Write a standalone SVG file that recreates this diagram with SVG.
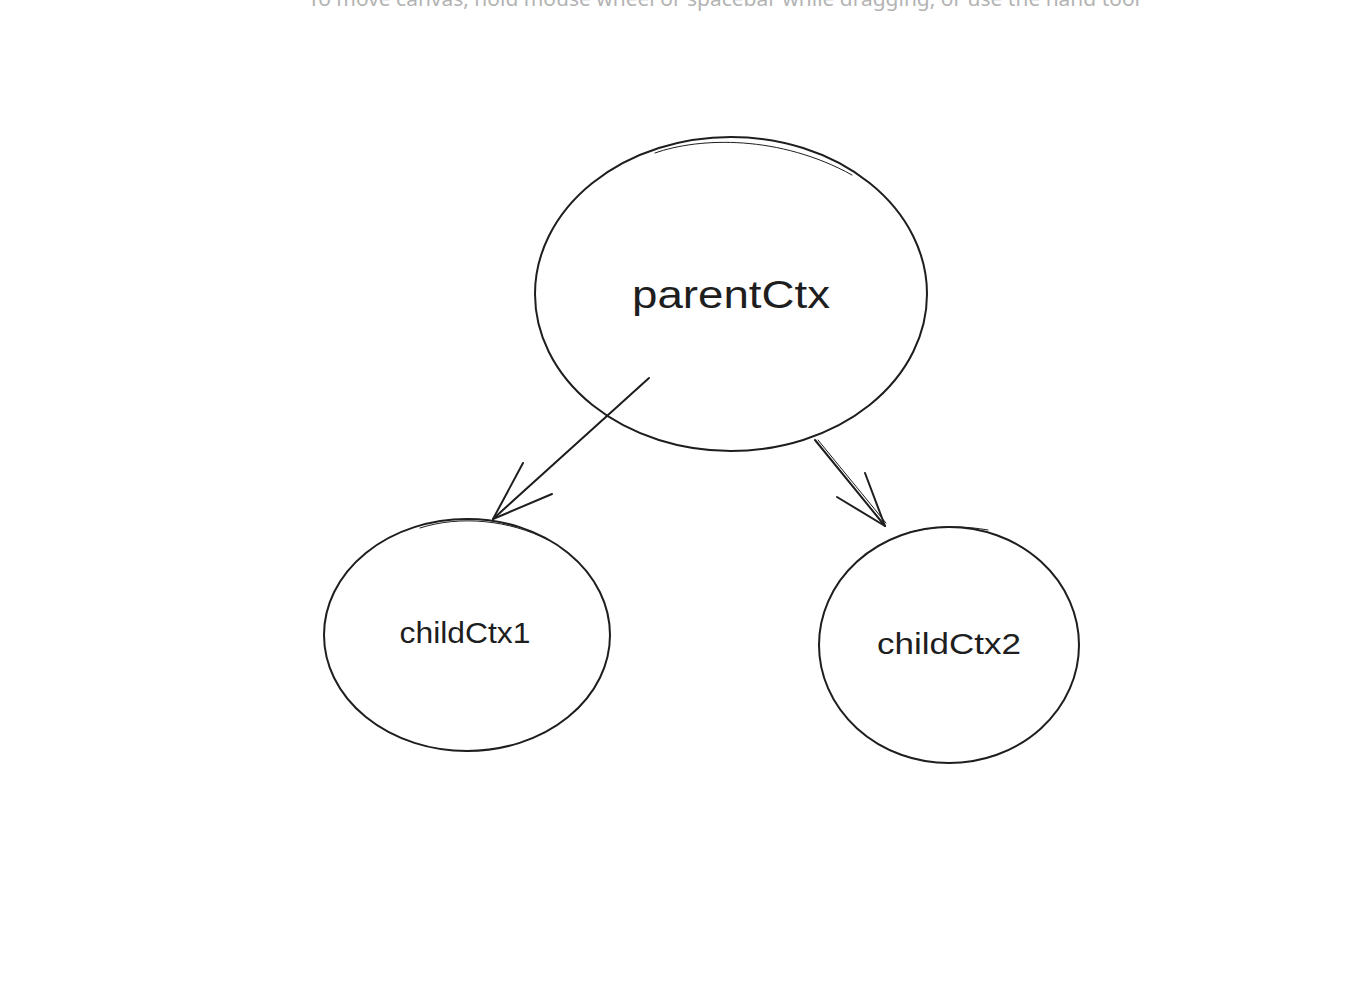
<svg xmlns="http://www.w3.org/2000/svg" width="1370" height="984" viewBox="0 0 1370 984">
<style>
.shape{fill:none;stroke:#1e1e1e;stroke-width:2;stroke-linecap:round;stroke-linejoin:round}
.thin{fill:none;stroke:#1e1e1e;stroke-width:1;stroke-linecap:round}
.lbl{font-family:"Liberation Sans","DejaVu Sans",sans-serif;fill:#1e1e1e;text-anchor:middle}
.hint{font-family:"Noto Sans","Open Sans",sans-serif;fill:#b3b3b3;font-size:20px;text-anchor:middle}
</style>
<rect width="1370" height="984" fill="#ffffff"/>
<text class="hint" x="724" y="6" textLength="832" lengthAdjust="spacingAndGlyphs">To move canvas, hold mouse wheel or spacebar while dragging, or use the hand tool</text>
<g id="connectors">
<g id="arrow1">
<path class="shape" d="M649 378 L493 519"/>
<path class="thin" d="M646 381 L496 516"/>
<path class="shape" d="M523 463 L493 519 L552 494"/>
</g>
<g id="arrow2">
<path class="shape" d="M815 440 L885 526"/>
<path class="thin" d="M818 440 L886 523"/>
<path class="shape" d="M865 473 L885 526 L837 497"/>
</g>
</g>
<g id="parentCtx">
<ellipse class="shape" cx="731" cy="294" rx="196" ry="157"/>
<path class="thin" d="M655 153 C700 137 780 135 852 175"/>
<text class="lbl" x="731" y="308" font-size="38" textLength="198" lengthAdjust="spacingAndGlyphs">parentCtx</text>
</g>
<g id="childCtx1">
<ellipse class="shape" cx="467" cy="635" rx="143" ry="116"/>
<path class="thin" d="M420 528 C460 515 510 520 548 540"/>
<text class="lbl" x="465" y="643" font-size="30" textLength="131" lengthAdjust="spacingAndGlyphs">childCtx1</text>
</g>
<g id="childCtx2">
<ellipse class="shape" cx="949" cy="645" rx="130" ry="118"/>
<path class="thin" d="M910 532 C940 525 965 526 988 530"/>
<text class="lbl" x="949" y="654" font-size="30" textLength="144" lengthAdjust="spacingAndGlyphs">childCtx2</text>
</g>
</svg>
